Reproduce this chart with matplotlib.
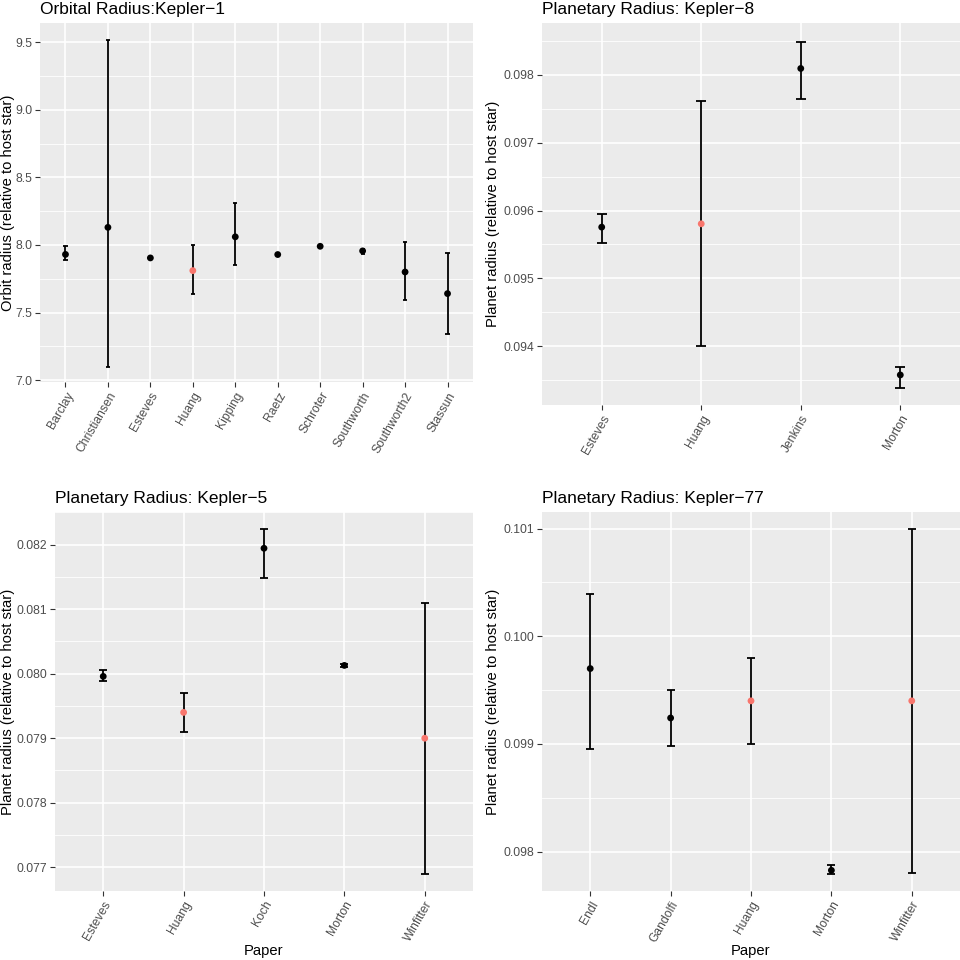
import numpy as np
import matplotlib.pyplot as plt

plt.rcParams['font.family'] = ['Liberation Sans', 'DejaVu Sans']

# Kepler-1 orbital radius
k1_papers = ["Barclay", "Christiansen", "Esteves", "Huang", "Kipping", "Raetz",
             "Schroter", "Southworth", "Southworth2", "Stassun"]
k1_value = [7.93, 8.13, 7.904, 7.81, 8.06, 7.929, 7.99, 7.956, 7.80, 7.64]
k1_low = [7.887, 7.096, 7.90, 7.635, 7.85, 7.925, 7.986, 7.936, 7.593, 7.341]
k1_high = [7.99, 9.514, 7.908, 8.0, 8.311, 7.933, 7.994, 7.973, 8.02, 7.941]
k1_red = ["Huang"]

# Kepler-8 planet radius
k8_papers = ["Esteves", "Huang", "Jenkins", "Morton"]
k8_value = [0.095755, 0.095804, 0.098093, 0.093577]
k8_low = [0.095524, 0.094, 0.09764, 0.09339]
k8_high = [0.095947, 0.09761, 0.09849, 0.0937]
k8_red = ["Huang"]

# Kepler-5 planet radius
k5_papers = ["Esteves", "Huang", "Koch", "Morton", "Winfitter"]
k5_value = [0.079958, 0.0794, 0.081943, 0.080128, 0.079]
k5_low = [0.079892, 0.0791, 0.08148, 0.080108, 0.0769]
k5_high = [0.080052, 0.0797, 0.08224, 0.080148, 0.0811]
k5_red = ["Huang", "Winfitter"]

# Kepler-77 planet radius
k77_papers = ["Endl", "Gandolfi", "Huang", "Morton", "Winfitter"]
k77_value = [0.0997, 0.099241, 0.0994, 0.097826, 0.0994]
k77_low = [0.098951, 0.098981, 0.099, 0.09779, 0.0978]
k77_high = [0.100392, 0.099499, 0.0998, 0.097876, 0.101]
k77_red = ["Huang", "Winfitter"]

fig = plt.figure(figsize=(9.6, 9.6), dpi=100)
fig.patch.set_facecolor("white")


def px_rect(x0, y0, x1, y1):
    return [x0 / 960, 1 - y1 / 960, (x1 - x0) / 960, (y1 - y0) / 960]


def panel(box, title, papers, value, low, high, red, ylim, yticks, fmt, ylabel, xlabel, ylab_x):
    x0, y0, x1, y1 = box
    ax = fig.add_axes(px_rect(x0, y0, x1, y1))
    ax.set_facecolor("#EBEBEB")
    for s in ax.spines.values():
        s.set_visible(False)
    x = np.arange(1, len(papers) + 1)

    # grid
    step = yticks[1] - yticks[0]
    minor = [t + step / 2 for t in yticks] + [yticks[0] - step / 2]
    for m in minor:
        ax.axhline(m, color="white", lw=0.6, zorder=0)
    for t in yticks:
        ax.axhline(t, color="white", lw=1.2, zorder=0)
    for xi in x:
        ax.axvline(xi, color="white", lw=1.2, zorder=0)

    # error bars with caps 0.1 wide
    ax.vlines(x, low, high, color="black", lw=1.3, zorder=2)
    ax.hlines(low, x - 0.05, x + 0.05, color="black", lw=1.3, zorder=2)
    ax.hlines(high, x - 0.05, x + 0.05, color="black", lw=1.3, zorder=2)
    cols = ["#F8766D" if p in red else "black" for p in papers]
    ax.scatter(x, value, s=24, c=cols, zorder=3, linewidths=0)

    ax.set_xlim(0.4, len(papers) + 0.6)
    ax.set_ylim(*ylim)
    ax.set_xticks(x)
    ax.set_xticklabels(papers, rotation=60, ha="right", rotation_mode="anchor")
    ax.set_yticks(yticks)
    ax.set_yticklabels([fmt % t for t in yticks])
    ax.tick_params(colors="#333333", length=3.5, width=0.8, labelcolor="#4D4D4D",
                   labelsize=8.7, pad=2.2)
    ax.set_ylabel(ylabel, fontsize=10.6, va="center")
    ax.yaxis.set_label_coords((ylab_x - x0) / (x1 - x0), 0.5)
    if xlabel:
        ax.set_xlabel(xlabel, fontsize=10.6, va="center")
        ax.xaxis.set_label_coords(0.5, (y1 - 951) / (y1 - y0))
    ax.set_title(title, loc="left", fontsize=12.5, pad=6.5)
    return ax


panel((40, 23, 473, 382), "Orbital Radius:Kepler\u22121", k1_papers, k1_value, k1_low, k1_high,
      k1_red, (6.986, 9.642), [7.0, 7.5, 8.0, 8.5, 9.0, 9.5], "%.1f",
      "Orbit radius (relative to host star)", None, 8)
panel((542, 23, 960, 405), "Planetary Radius: Kepler\u22128", k8_papers, k8_value, k8_low, k8_high,
      k8_red, (0.093134, 0.098763), [0.094, 0.095, 0.096, 0.097, 0.098], "%.3f",
      "Planet radius (relative to host star)", None, 493)
panel((55, 512, 473, 891), "Planetary Radius: Kepler\u22125", k5_papers, k5_value, k5_low, k5_high,
      k5_red, (0.076633, 0.082505), [0.077, 0.078, 0.079, 0.080, 0.081, 0.082], "%.3f",
      "Planet radius (relative to host star)", "Paper", 8)
panel((542, 512, 960, 891), "Planetary Radius: Kepler\u221277", k77_papers, k77_value, k77_low, k77_high,
      k77_red, (0.097634, 0.101154), [0.098, 0.099, 0.100, 0.101], "%.3f",
      "Planet radius (relative to host star)", "Paper", 493)

fig.savefig("out.png", dpi=100)
